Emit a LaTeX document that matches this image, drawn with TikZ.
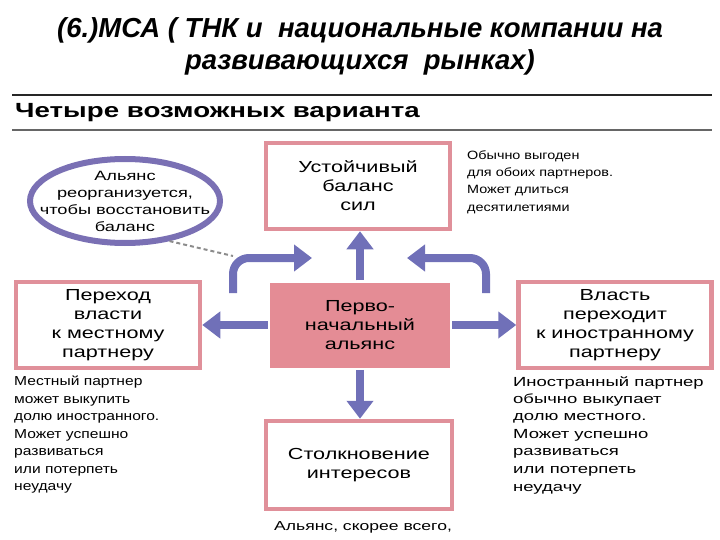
\documentclass[tikz,border=0pt]{standalone}
\usepackage{fontspec}
\setmainfont{Liberation Sans}
\newfontfamily\slidefont[FakeStretch=1.35]{Liberation Sans}
\newfontfamily\widefont[FakeStretch=1.4]{Liberation Sans}
\newfontfamily\narrowfont[FakeStretch=1.2]{Liberation Sans}
\usetikzlibrary{positioning,arrows.meta,shapes.geometric}
\definecolor{boxpink}{HTML}{E0909A}
\definecolor{corepink}{HTML}{E48C95}
\definecolor{flowblue}{HTML}{7070B8}
\definecolor{ringblue}{HTML}{7A70B4}

\begin{document}
\begin{tikzpicture}[x=1pt,y=-1pt,>={Triangle[length=18pt,width=26pt]},
  box/.style={draw=boxpink,line width=4.5pt,fill=white,minimum width=184pt,minimum height=86pt,align=center,inner sep=2pt,font=\slidefont\fontsize{16}{19}\selectfont},
  note/.style={align=left,inner sep=0pt,font=\slidefont\fontsize{13.5}{17.5}\selectfont},
  flow/.style={->,draw=flowblue,line width=8pt}]
\useasboundingbox (0,0) rectangle (720,540);
% title
\node (title) at (360,46) [align=center,font=\bfseries\itshape\fontsize{27.5}{32}\selectfont]
  {(6.)МСА ( ТНК и~ национальные компании на\\развивающихся~ рынках)};
\draw[line width=2.5pt,black!85] (12,95) -- (712,95);
\node (head) at (15,113) [anchor=west,inner sep=0pt,font=\slidefont\bfseries\fontsize{20.5}{22}\selectfont] {Четыре возможных варианта};
\draw[line width=1.5pt,black!60] (12,130) -- (712,130);
% boxes
\node (stable) at (358,186) [box] {Устойчивый\\баланс\\сил};
\node (core) at (360,325) [box,fill=corepink,draw=none,minimum width=180pt,minimum height=85pt] {Перво-\\начальный\\альянс};
\node (local) at (108,325) [box] {Переход\\власти\\к местному\\партнеру};
\node (foreign) at (615,325) [box,minimum width=193pt] {Власть\\переходит\\к иностранному\\партнеру};
\node (clash) at (359,465) [box,minimum width=186pt,minimum height=88pt] {Столкновение\\интересов};
% notes
\node (stablenote) at (467,150) [note,anchor=north west,font=\narrowfont\fontsize{12}{17.5}\selectfont] {Обычно выгоден\\для обоих партнеров.\\Может длиться\\десятилетиями};
\node (localnote) at (14,376) [note,anchor=north west,font=\narrowfont\fontsize{13}{17.5}\selectfont] {Местный партнер\\может выкупить\\долю иностранного.\\Может успешно\\развиваться\\или потерпеть\\неудачу};
\node (foreignnote) at (513,376) [note,anchor=north west,font=\widefont\fontsize{13.2}{17.5}\selectfont] {Иностранный партнер\\обычно выкупает\\долю местного.\\Может успешно\\развиваться\\или потерпеть\\неудачу};
\node (clashnote) at (274,527) [note,anchor=west,font=\slidefont\fontsize{13}{17.5}\selectfont] {Альянс, скорее всего,};
% ellipse
\node (ring) at (125,201) [ellipse,draw=ringblue,line width=6pt,fill=white,minimum width=190pt,minimum height=84pt] {};
\node (ringtext) at (ring) [align=center,font=\slidefont\fontsize{13.5}{17}\selectfont] {Альянс\\реорганизуется,\\чтобы восстановить\\баланс};
% connectors
\coordinate (lstart) at (233,293);
\coordinate (ltip) at (312,258);
\coordinate (rstart) at (486,293);
\coordinate (rtip) at (407,258);
\draw[dashed,line width=2pt,black!45,dash pattern=on 4pt off 3pt] (ring.-42) -- (233,256);
\draw[flow,rounded corners=16pt] (lstart) |- (ltip);
\draw[flow,rounded corners=16pt] (rstart) |- (rtip);
\draw[flow] (core.north) -- (core.north |- stable.south);
\draw[flow] (core.west) -- (local.east);
\draw[flow] (core.east) -- (foreign.west);
\draw[flow] (core.south) -- (core.south |- clash.north);
\end{tikzpicture}
\end{document}
